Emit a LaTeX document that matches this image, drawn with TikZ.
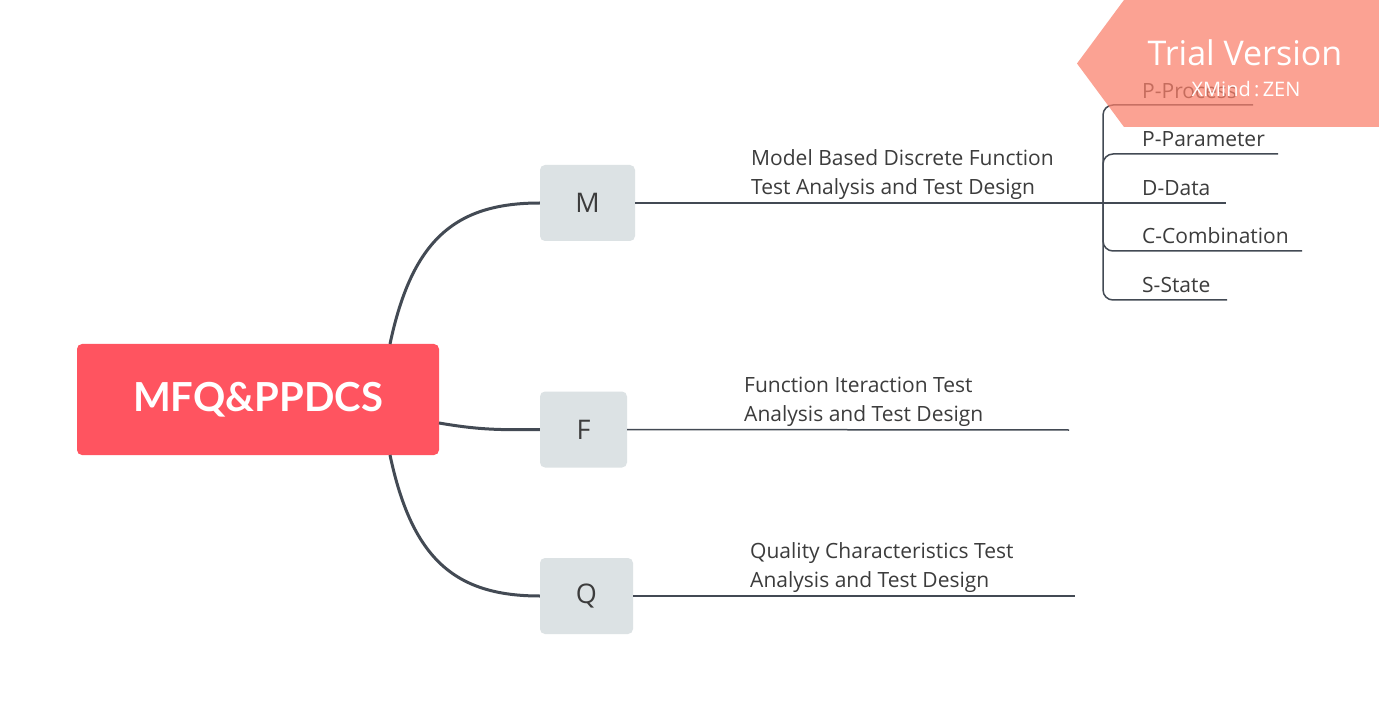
\documentclass[tikz,border=0pt]{standalone}
\usepackage{fontspec}
\setmainfont{Open Sans}
\newfontfamily\rootfont{Lato}
\usetikzlibrary{calc}
\definecolor{rootred}{HTML}{FF5460}
\definecolor{topicgray}{HTML}{DCE2E4}
\definecolor{linec}{HTML}{434A54}
\definecolor{txt}{HTML}{3C3C3C}
\definecolor{trial}{HTML}{FA7F6A}
\tikzset{
  rootbox/.style={fill=rootred,rounded corners=5pt,minimum width=362pt,minimum height=111pt,text=white,font=\rootfont\fontsize{40}{44}\selectfont\bfseries,inner sep=0pt},
  topicbox/.style={fill=topicgray,rounded corners=5pt,minimum height=76pt,text=txt,font=\fontsize{27}{30}\selectfont,inner sep=0pt},
  branch/.style={draw=linec,line width=3pt},
  thin/.style={draw=linec,line width=1.5pt},
  lbl/.style={text=txt,font=\fontsize{21}{29}\selectfont,align=left,anchor=south west,inner sep=0pt},
  sublbl/.style={text=txt,font=\fontsize{21}{22}\selectfont,anchor=base west,inner sep=0pt},
}
\begin{document}
\begin{tikzpicture}[x=1pt,y=-1pt]
\useasboundingbox (0,0) rectangle (1379,711);
\fill[white] (0,0) rectangle (1379,711);
% nodes
\node[rootbox] (root) at (258,399.5) {MFQ\&PPDCS};
\node[topicbox,minimum width=95pt] (M) at (587.5,203) {M};
\node[topicbox,minimum width=87pt] (F) at (583.5,429.5) {F};
\node[topicbox,minimum width=93pt] (Q) at (586.5,596) {Q};
% anchor coordinates on root
\coordinate (rtM) at (390,344);
\coordinate (rtF) at (439,423);
\coordinate (rtQ) at (390,455);
% main connectors
\draw[branch] (rtM) .. controls (412,240) and (455,203) .. (M.west);
\draw[branch] (rtF) .. controls (480,430) and (500,430) .. (F.west);
\draw[branch] (rtQ) .. controls (412,559) and (455,596) .. (Q.west);
% M branch
\coordinate (Mend) at (1076,203);
\coordinate (hub) at (1103,203);
\draw[thin] (M.east) -- (Mend);
\draw[draw=linec,line width=2.5pt] (Mend) -- (hub);
\node[lbl] (Mtxt) at (751,200) {Model Based Discrete Function\\Test Analysis and Test Design};
% F branch
\coordinate (Fend) at (1069,430);
\draw[thin] (F.east) -- (Fend);
\node[lbl] (Ftxt) at (744,427) {Function Iteraction Test\\Analysis and Test Design};
% Q branch
\coordinate (Qend) at (1075,596);
\draw[thin] (Q.east) -- (Qend);
\node[lbl] (Qtxt) at (750,593) {Quality Characteristics Test\\Analysis and Test Design};
% subtopics
\coordinate (e1) at (1253,105);
\coordinate (e2) at (1278,154);
\coordinate (e3) at (1226,203);
\coordinate (e4) at (1302,251);
\coordinate (e5) at (1227,300);
\draw[thin,rounded corners=10pt] (hub) |- (e1);
\draw[thin,rounded corners=10pt] (hub) |- (e2);
\draw[thin] (hub) -- (e3);
\draw[thin,rounded corners=10pt] (hub) |- (e4);
\draw[thin,rounded corners=10pt] (hub) |- (e5);
\node[sublbl] (s1) at (1142,98.5) {P-Process};
\node[sublbl] (s2) at (1142,147) {P-Parameter};
\node[sublbl] (s3) at (1142,196) {D-Data};
\node[sublbl] (s4) at (1142,244) {C-Combination};
\node[sublbl] (s5) at (1142,293) {S-State};
% trial banner
\fill[trial,opacity=0.72] (1379,0) -- (1124,0) -- (1077,63.5) -- (1124,127) -- (1379,127) -- cycle;
\node[text=white,font=\fontsize{34}{38}\selectfont,inner sep=0pt] (tv) at (1245,53) {Trial Version};
\node[text=white,font=\fontsize{20}{22}\selectfont,inner sep=0pt] (xz) at (1246,89) {XMind\,:\,ZEN};
\end{tikzpicture}
\end{document}
